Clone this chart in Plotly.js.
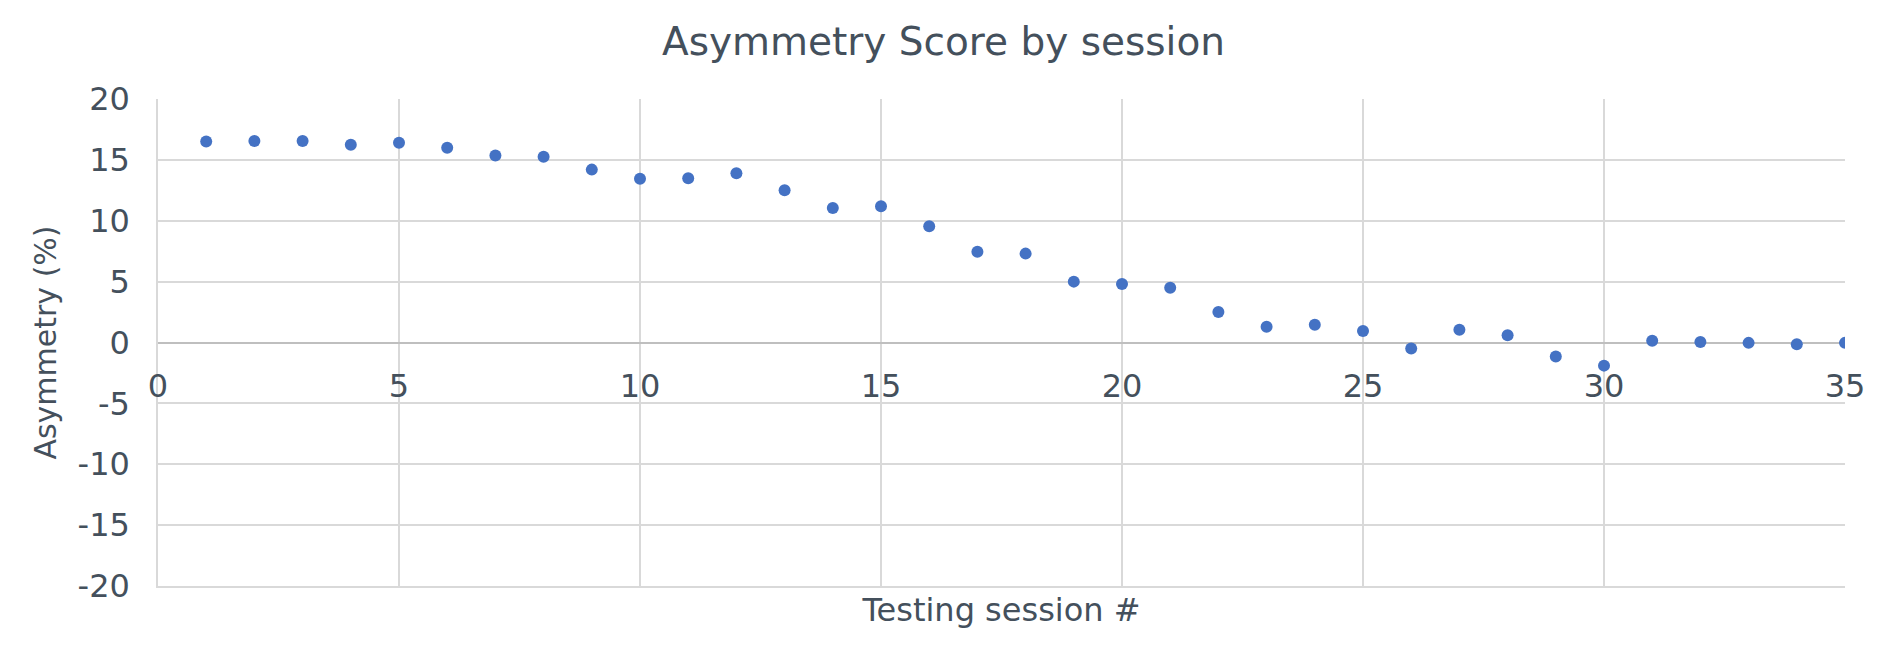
<!DOCTYPE html>
<html>
<head>
<meta charset="utf-8">
<script src="https://cdn.plot.ly/plotly-3.0.1.min.js"></script>
<style>
  html, body { margin: 0; padding: 0; background: #fff; }
  #myDiv { width: 1887px; height: 656px; }
</style>
</head>
<body>
<div id="myDiv"></div>
<script>
// session number and asymmetry (%)
var sessions = [1, 2, 3, 4, 5, 6, 7, 8, 9, 10,
                11, 12, 13, 14, 15, 16, 17, 18, 19, 20,
                21, 22, 23, 24, 25, 26, 27, 28, 29, 30,
                31, 32, 33, 34, 35];
var asymmetry = [16.5, 16.55, 16.55, 16.25, 16.4, 16.0, 15.35, 15.25, 14.2, 13.45,
                 13.5, 13.9, 12.5, 11.05, 11.2, 9.55, 7.45, 7.3, 5.0, 4.8,
                 4.5, 2.5, 1.3, 1.45, 0.95, -0.5, 1.05, 0.6, -1.15, -1.9,
                 0.15, 0.05, -0.03, -0.15, -0.03];
var xTicks = [0, 5, 10, 15, 20, 25, 30, 35];
var yTicks = [-20, -15, -10, -5, 0, 5, 10, 15, 20];
// plain hyphen like the original, not plotly's unicode minus
var yTickText = ['-20', '-15', '-10', '-5', '0', '5', '10', '15', '20'];

var textColor = '#44505c';
var gridColor = '#d9d9d9';
var fontName = 'DejaVu Sans';

var points = {
  x: sessions,
  y: asymmetry,
  mode: 'markers',
  type: 'scatter',
  marker: { color: '#4472c4', size: 12 },
  hoverinfo: 'x+y'
};

// empty trace so the second x axis (labels on the zero line) gets drawn
var labelAxis = { x: [], y: [], xaxis: 'x2', yaxis: 'y', type: 'scatter' };

var layout = {
  showlegend: false,
  paper_bgcolor: '#fff',
  plot_bgcolor: '#fff',
  margin: { l: 158, r: 42, t: 99, b: 70 },
  font: { family: fontName, color: textColor },
  title: {
    text: 'Asymmetry Score by session',
    font: { family: fontName, size: 39, color: textColor },
    x: 0.5,
    xanchor: 'center',
    y: 0.937,
    yanchor: 'middle'
  },
  xaxis: {
    range: [0, 35],
    tickvals: xTicks,
    showticklabels: false,
    showgrid: true,
    gridcolor: gridColor,
    gridwidth: 1.5,
    zeroline: false,
    showline: true,
    linecolor: gridColor,
    linewidth: 1.5,
    ticks: '',
    title: {
      text: 'Testing session #',
      font: { size: 32, color: textColor },
      standoff: 12
    }
  },
  xaxis2: {
    range: [0, 35],
    overlaying: 'x',
    anchor: 'free',
    position: 0.5,
    side: 'bottom',
    tickvals: xTicks,
    showgrid: false,
    zeroline: false,
    showline: false,
    ticks: '',
    ticklabelstandoff: 21,
    tickfont: { size: 32, color: textColor }
  },
  yaxis: {
    range: [-20, 20],
    tickvals: yTicks,
    ticktext: yTickText,
    showgrid: true,
    gridcolor: gridColor,
    gridwidth: 1.5,
    zeroline: true,
    zerolinecolor: '#bfbfbf',
    zerolinewidth: 2,
    showline: true,
    linecolor: gridColor,
    linewidth: 1.5,
    ticks: '',
    ticklabelstandoff: 20,
    tickfont: { size: 32, color: textColor },
    title: {
      text: 'Asymmetry (%)',
      font: { size: 30, color: textColor },
      standoff: 12
    }
  }
};

Plotly.newPlot('myDiv', [points, labelAxis], layout, { displayModeBar: false, responsive: false });
</script>
</body>
</html>
